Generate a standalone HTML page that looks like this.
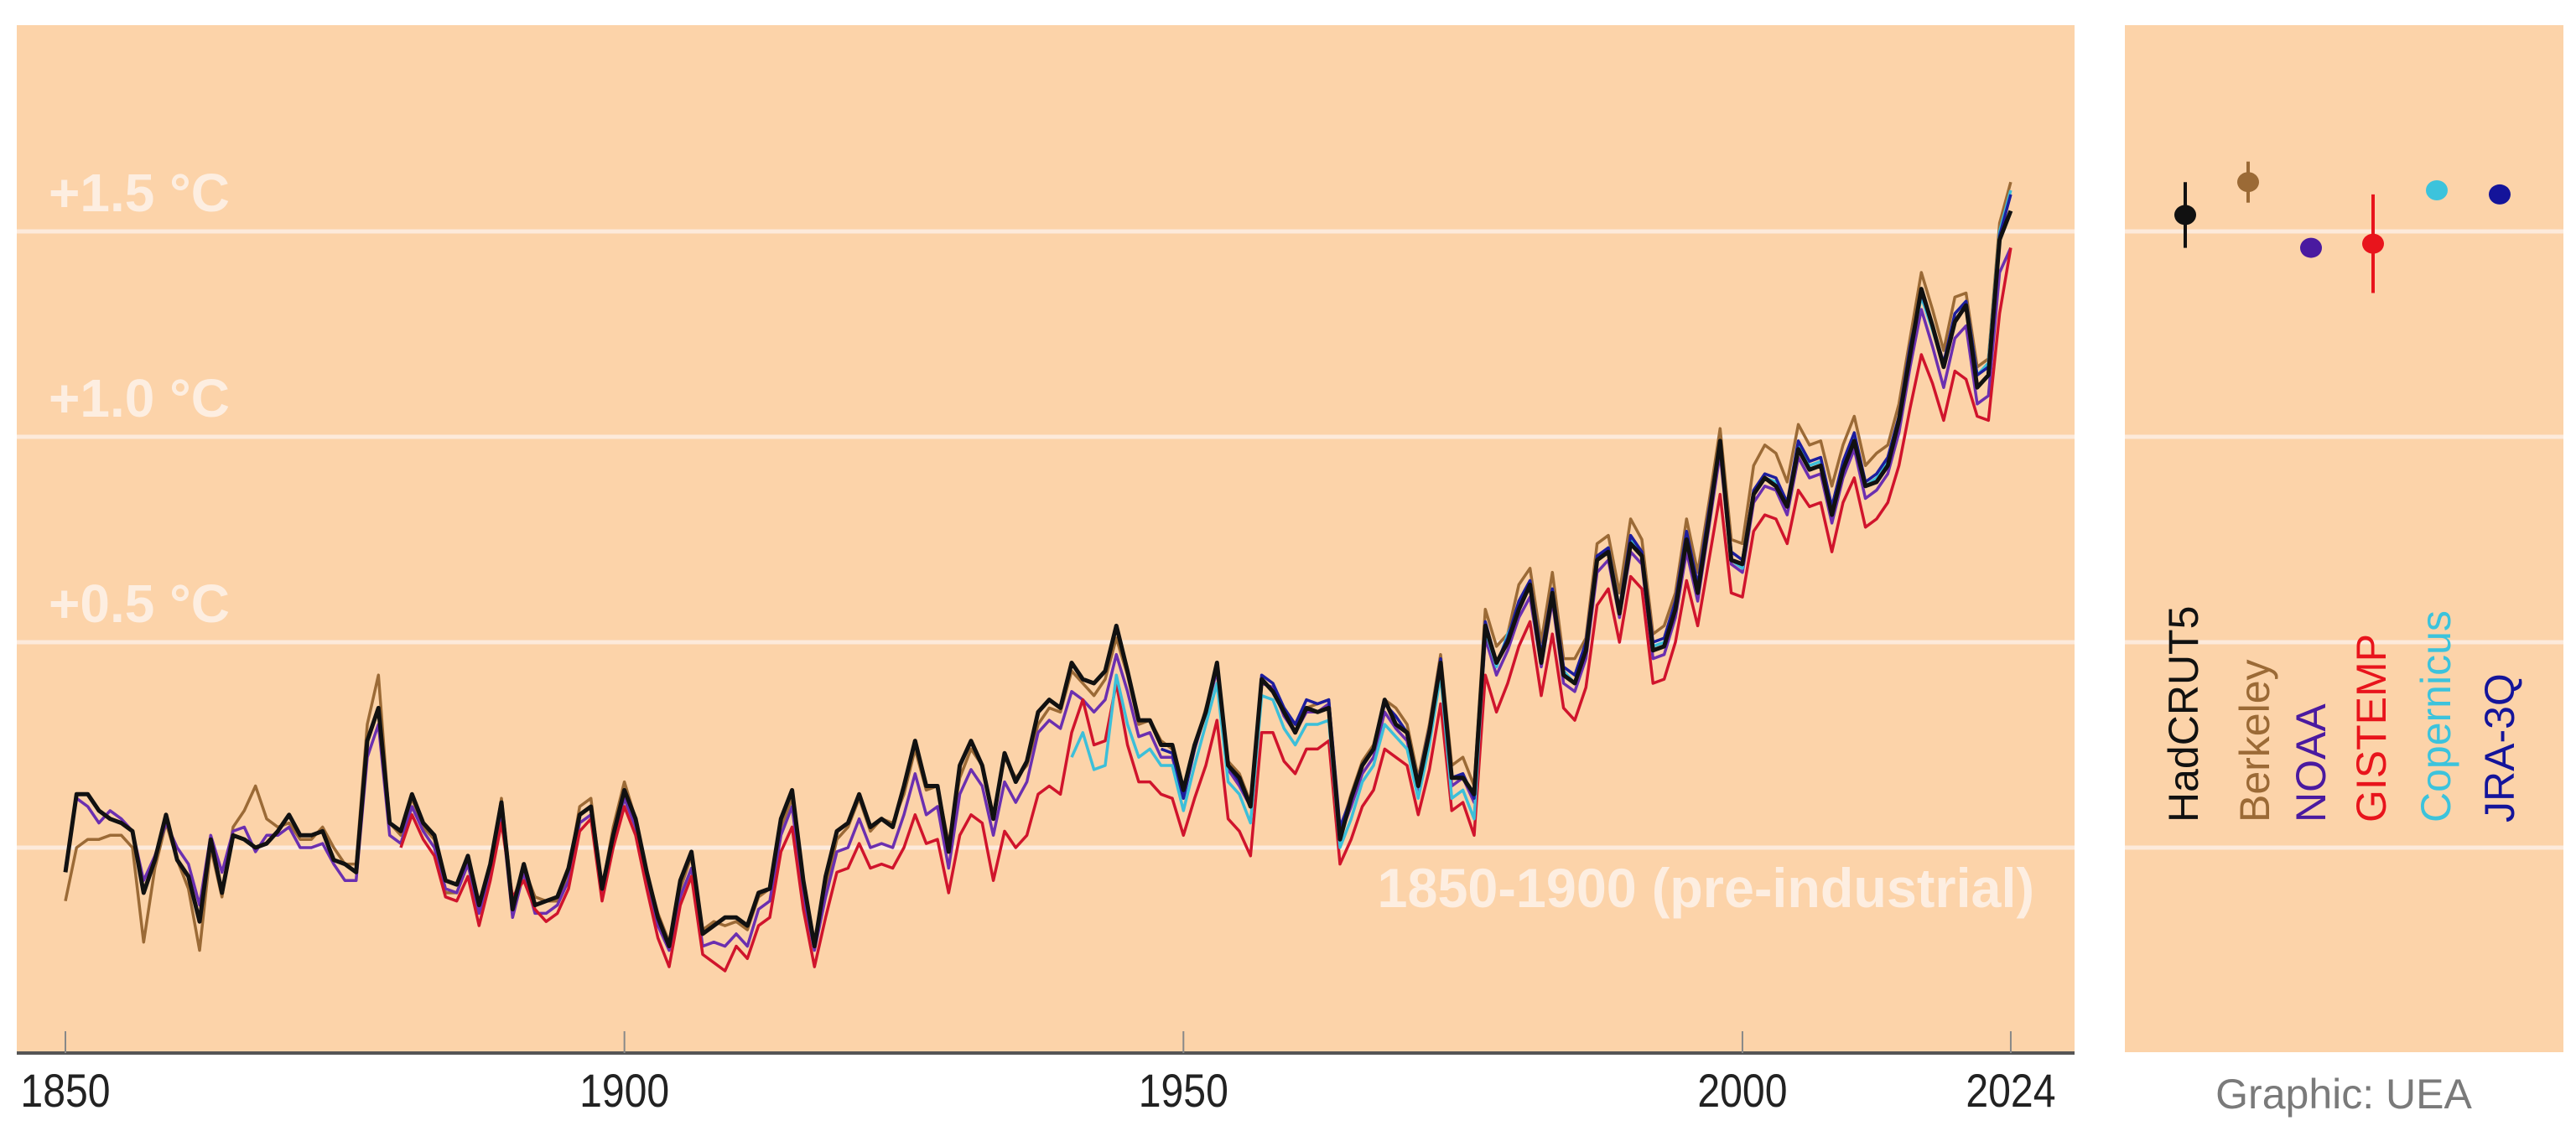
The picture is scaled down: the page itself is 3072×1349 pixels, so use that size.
<!DOCTYPE html>
<html><head><meta charset="utf-8"><style>
html,body{margin:0;padding:0;background:#fff}
svg{display:block}
text{font-family:"Liberation Sans",sans-serif}
</style></head><body>
<svg id="chart" width="3072" height="1349" viewBox="0 0 3072 1349">
<rect x="20" y="30" width="2454" height="1225" fill="#fcd3a9"/>
<rect x="2534" y="30" width="523" height="1225" fill="#fcd3a9"/>
<g id="grid"></g><g id="lines"></g><g id="axis"></g><g id="side"></g>
</svg>
<script>
const years0 = 1850;
const hadcrut = [-0.06,0.13,0.13,0.09,0.07,0.06,0.04,-0.11,-0.03,0.08,
-0.03,-0.07,-0.18,0.02,-0.11,0.03,0.02,0.00,0.01,0.04,
0.08,0.03,0.03,0.04,-0.03,-0.04,-0.06,0.26,0.34,0.06,
0.04,0.13,0.06,0.03,-0.08,-0.09,-0.02,-0.14,-0.04,0.11,
-0.15,-0.04,-0.14,-0.13,-0.12,-0.05,0.08,0.10,-0.10,0.03,
0.14,0.07,-0.06,-0.17,-0.24,-0.08,-0.01,-0.21,-0.19,-0.17,
-0.17,-0.19,-0.11,-0.10,0.07,0.14,-0.08,-0.24,-0.07,0.04,
0.06,0.13,0.05,0.07,0.05,0.15,0.26,0.15,0.15,-0.01,
0.20,0.26,0.20,0.07,0.23,0.16,0.21,0.33,0.36,0.34,
0.45,0.41,0.40,0.43,0.54,0.43,0.31,0.31,0.25,0.25,
0.14,0.25,0.33,0.45,0.20,0.17,0.10,0.41,0.38,0.33,
0.28,0.34,0.33,0.34,0.02,0.12,0.20,0.24,0.36,0.30,
0.28,0.15,0.28,0.45,0.17,0.17,0.13,0.54,0.45,0.50,
0.58,0.64,0.45,0.62,0.42,0.40,0.48,0.70,0.72,0.57,
0.74,0.71,0.48,0.49,0.58,0.75,0.62,0.80,0.99,0.70,
0.69,0.86,0.90,0.88,0.83,0.97,0.92,0.93,0.81,0.92,
0.99,0.88,0.89,0.93,1.04,1.20,1.36,1.27,1.17,1.28,
1.32,1.12,1.15,1.48,1.55];
const berkeley = [-0.13,0.00,0.02,0.02,0.03,0.03,0.00,-0.23,-0.05,0.06,
-0.03,-0.10,-0.25,0.00,-0.12,0.05,0.09,0.15,0.07,0.05,
0.06,0.02,0.02,0.05,0.00,-0.04,-0.04,0.30,0.42,0.06,
0.03,0.12,0.05,0.02,-0.11,-0.11,-0.04,-0.16,-0.05,0.12,
-0.13,-0.05,-0.12,-0.13,-0.13,-0.06,0.10,0.12,-0.10,0.05,
0.16,0.07,-0.06,-0.16,-0.23,-0.10,-0.02,-0.20,-0.18,-0.19,
-0.18,-0.20,-0.12,-0.10,0.05,0.12,-0.08,-0.23,-0.10,0.02,
0.05,0.12,0.04,0.07,0.06,0.13,0.24,0.14,0.15,0.01,
0.17,0.24,0.20,0.08,0.22,0.17,0.20,0.30,0.34,0.33,
0.43,0.40,0.37,0.41,0.51,0.42,0.30,0.31,0.26,0.24,
0.14,0.24,0.34,0.44,0.21,0.18,0.11,0.40,0.39,0.34,
0.30,0.34,0.35,0.36,0.04,0.13,0.21,0.25,0.36,0.34,
0.30,0.17,0.30,0.47,0.20,0.22,0.15,0.58,0.49,0.52,
0.64,0.68,0.50,0.67,0.46,0.46,0.51,0.74,0.76,0.62,
0.80,0.75,0.52,0.54,0.62,0.80,0.67,0.84,1.02,0.75,
0.74,0.93,0.98,0.96,0.89,1.03,0.98,0.99,0.88,0.98,
1.05,0.93,0.96,0.98,1.08,1.24,1.40,1.31,1.21,1.34,
1.35,1.17,1.19,1.52,1.62];
const noaa = [-0.05,0.12,0.10,0.06,0.09,0.07,0.04,-0.08,-0.02,0.06,
0.00,-0.04,-0.14,0.03,-0.06,0.04,0.05,-0.01,0.03,0.03,
0.05,0.00,0.00,0.01,-0.04,-0.08,-0.08,0.22,0.30,0.03,
0.01,0.10,0.04,0.00,-0.10,-0.11,-0.04,-0.16,-0.07,0.09,
-0.17,-0.06,-0.16,-0.16,-0.14,-0.08,0.06,0.08,-0.12,0.01,
0.12,0.05,-0.08,-0.19,-0.25,-0.12,-0.05,-0.24,-0.23,-0.24,
-0.21,-0.24,-0.15,-0.13,0.03,0.10,-0.12,-0.25,-0.12,-0.01,
0.00,0.07,0.00,0.01,0.00,0.08,0.18,0.08,0.10,-0.05,
0.13,0.19,0.15,0.03,0.16,0.11,0.16,0.28,0.31,0.29,
0.38,0.36,0.33,0.36,0.47,0.38,0.27,0.28,0.22,0.22,
0.12,0.24,0.33,0.43,0.19,0.15,0.10,0.40,0.39,0.32,
0.28,0.33,0.33,0.35,0.03,0.10,0.18,0.22,0.33,0.29,
0.26,0.14,0.27,0.44,0.15,0.17,0.11,0.51,0.42,0.48,
0.56,0.61,0.44,0.60,0.40,0.38,0.46,0.67,0.70,0.56,
0.72,0.69,0.46,0.47,0.56,0.72,0.60,0.78,0.96,0.69,
0.67,0.84,0.88,0.87,0.81,0.95,0.90,0.91,0.79,0.90,
0.97,0.85,0.87,0.91,1.01,1.17,1.31,1.22,1.12,1.24,
1.27,1.08,1.10,1.40,1.46];
const gistempStart = 1880;
const gistemp = [0.00,0.08,0.02,-0.02,-0.12,-0.13,-0.07,-0.19,-0.08,0.06,
-0.12,-0.08,-0.15,-0.18,-0.16,-0.10,0.04,0.07,-0.13,0.00,
0.10,0.03,-0.10,-0.22,-0.29,-0.14,-0.07,-0.26,-0.28,-0.30,
-0.24,-0.27,-0.19,-0.17,-0.01,0.05,-0.15,-0.29,-0.17,-0.06,
-0.05,0.01,-0.05,-0.04,-0.05,0.00,0.08,0.01,0.02,-0.11,
0.03,0.08,0.06,-0.08,0.04,0.00,0.03,0.13,0.15,0.13,
0.28,0.36,0.25,0.26,0.40,0.25,0.16,0.16,0.13,0.12,
0.03,0.12,0.20,0.31,0.07,0.04,-0.02,0.28,0.28,0.21,
0.18,0.24,0.24,0.26,-0.04,0.02,0.10,0.14,0.24,0.22,
0.20,0.08,0.19,0.35,0.09,0.11,0.03,0.42,0.33,0.40,
0.49,0.55,0.37,0.52,0.34,0.31,0.39,0.59,0.63,0.50,
0.66,0.63,0.40,0.41,0.50,0.65,0.54,0.70,0.86,0.62,
0.61,0.77,0.81,0.80,0.74,0.87,0.83,0.84,0.72,0.84,
0.90,0.78,0.80,0.84,0.93,1.07,1.20,1.13,1.04,1.16,
1.14,1.05,1.04,1.30,1.46];
const copernicusStart = 1940;
const copernicus = [0.22,0.28,0.19,0.20,0.42,0.30,0.22,0.24,0.20,0.20,
0.09,0.20,0.30,0.40,0.16,0.13,0.06,0.37,0.36,0.29,
0.25,0.30,0.30,0.31,0.00,0.07,0.16,0.20,0.30,0.27,
0.24,0.12,0.25,0.42,0.12,0.14,0.07,0.53,0.44,0.52,
0.58,0.64,0.46,0.63,0.43,0.40,0.49,0.70,0.73,0.58,
0.75,0.71,0.49,0.50,0.59,0.76,0.63,0.81,0.98,0.70,
0.68,0.86,0.90,0.89,0.83,0.98,0.93,0.94,0.82,0.93,
1.00,0.88,0.90,0.94,1.04,1.21,1.34,1.26,1.17,1.30,
1.33,1.15,1.18,1.50,1.60];
const jraStart = 1948;
const jra = [0.24,0.23,
0.12,0.24,0.33,0.44,0.20,0.16,0.10,0.42,0.40,0.34,
0.30,0.36,0.35,0.36,0.05,0.12,0.20,0.24,0.35,0.32,
0.28,0.16,0.29,0.46,0.17,0.18,0.12,0.55,0.45,0.51,
0.60,0.65,0.47,0.63,0.44,0.42,0.50,0.71,0.73,0.58,
0.76,0.72,0.50,0.51,0.60,0.77,0.64,0.82,0.99,0.72,
0.70,0.87,0.91,0.90,0.84,0.99,0.94,0.95,0.83,0.94,
1.01,0.89,0.91,0.95,1.05,1.22,1.35,1.27,1.18,1.30,
1.33,1.15,1.17,1.49,1.59];
const xTicks = [1850,1900,1950,2000,2024];
const gridValues = [0,0.5,1.0,1.5];
const gridLabels = ["","+0.5 °C","+1.0 °C","+1.5 °C"];
const datasetNames = ["HadCRUT5","Berkeley","NOAA","GISTEMP","Copernicus","JRA-3Q"];
const value2024 = [1.54,1.62,1.46,1.47,1.60,1.59];
const errLow = [1.46,1.57,1.46,1.35,1.60,1.59];
const errHigh = [1.62,1.67,1.46,1.59,1.60,1.59];

const NS="http://www.w3.org/2000/svg";
const xs = y => 78 + (y-1850)*13.333;
const ys = v => 1011 - v*490;
function mk(tag, parent){const e=document.createElementNS(NS,tag);parent.appendChild(e);return e;}
const grid=document.getElementById('grid'), lines=document.getElementById('lines'), axis=document.getElementById('axis'), side=document.getElementById('side');

gridValues.forEach((v,i)=>{
  const l=mk('line',grid);
  
  
  l.setAttribute('x1',20);l.setAttribute('x2',3057);l.setAttribute('y1',ys(v));l.setAttribute('y2',ys(v));
  l.setAttribute('stroke','#fdeadb');l.setAttribute('stroke-width',5);
  if(gridLabels[i]){
    const t=mk('text',grid);
    
    
    t.setAttribute('x',58);t.setAttribute('y',ys(v)-24);
    t.setAttribute('font-size',64);t.setAttribute('font-weight','bold');t.setAttribute('fill','#fdeee1');
    t.textContent=gridLabels[i];
  }
});
const sep=mk('rect',grid);


sep.setAttribute('x',2474);sep.setAttribute('y',20);sep.setAttribute('width',60);sep.setAttribute('height',1240);sep.setAttribute('fill','#fff');

const pre=mk('text',grid);


pre.setAttribute('x',2426);pre.setAttribute('y',1082);pre.setAttribute('text-anchor','end');
pre.setAttribute('font-size',66);pre.setAttribute('font-weight','bold');pre.setAttribute('fill','#fdeee1');
pre.setAttribute('transform','translate(2426 0) scale(0.98 1) translate(-2426 0)');
pre.textContent='1850-1900 (pre-industrial)';

function drawSeries(data,start,color,w,name){
  const p=mk('polyline',lines);
  
  
  p.setAttribute('points',data.map((v,i)=>xs(start+i).toFixed(1)+','+ys(v).toFixed(1)).join(' '));
  p.setAttribute('fill','none');p.setAttribute('stroke',color);p.setAttribute('stroke-width',w);p.setAttribute('stroke-linejoin','round');
}
drawSeries(berkeley,years0,'#9b6a36',3.5,'berkeley-line');
drawSeries(noaa,years0,'#6b2fb0',3.5,'noaa-line');
drawSeries(gistemp,gistempStart,'#d0142c',3.5,'gistemp-line');
drawSeries(copernicus,copernicusStart,'#3cbfd9',3.5,'copernicus-line');
drawSeries(jra,jraStart,'#1d1d9e',3.5,'jra3q-line');
drawSeries(hadcrut,years0,'#111',5,'hadcrut5-line');

const ax=mk('line',axis);


ax.setAttribute('x1',20);ax.setAttribute('x2',2474);ax.setAttribute('y1',1256);ax.setAttribute('y2',1256);ax.setAttribute('stroke','#555');ax.setAttribute('stroke-width',4);
xTicks.forEach(y=>{
  const tk=mk('line',axis);
  
  
  tk.setAttribute('x1',xs(y));tk.setAttribute('x2',xs(y));tk.setAttribute('y1',1230);tk.setAttribute('y2',1256);tk.setAttribute('stroke','#888');tk.setAttribute('stroke-width',2);
  const t=mk('text',axis);
  
  
  t.setAttribute('x',xs(y));t.setAttribute('y',1320);t.setAttribute('text-anchor','middle');
  t.setAttribute('font-size',56);t.setAttribute('fill','#222');
  t.setAttribute('transform',`translate(${xs(y)} 0) scale(0.86 1) translate(${-xs(y)} 0)`);
  t.textContent=y;
});

const colors=['#111','#9b6a36','#4a1aa0','#e8141c','#3cc3dc','#14149a'];
const dotX=[2606,2681,2756,2830,2906,2981];
const labelX=[2621,2706,2773,2845,2922,2998];
datasetNames.forEach((n,i)=>{
  if(errHigh[i]>errLow[i]){
    const e=mk('line',side);
    
    
    e.setAttribute('x1',dotX[i]);e.setAttribute('x2',dotX[i]);e.setAttribute('y1',ys(errHigh[i]));e.setAttribute('y2',ys(errLow[i]));
    e.setAttribute('stroke',colors[i]);e.setAttribute('stroke-width',4);
  }
  const c=mk('ellipse',side);
  
  
  c.setAttribute('cx',dotX[i]);c.setAttribute('cy',ys(value2024[i]));c.setAttribute('rx',13);c.setAttribute('ry',12);c.setAttribute('fill',colors[i]);
  const t=mk('text',side);
  
  
  t.setAttribute('transform',`translate(${labelX[i]} 981) rotate(-90)`);
  t.setAttribute('font-size',50);t.setAttribute('fill',colors[i]);
  t.textContent=n;
});
const g=mk('text',side);


g.setAttribute('x',2795);g.setAttribute('y',1322);g.setAttribute('text-anchor','middle');g.setAttribute('font-size',50);g.setAttribute('fill','#7a7a7a');
g.textContent='Graphic: UEA';
</script>
</body></html>
